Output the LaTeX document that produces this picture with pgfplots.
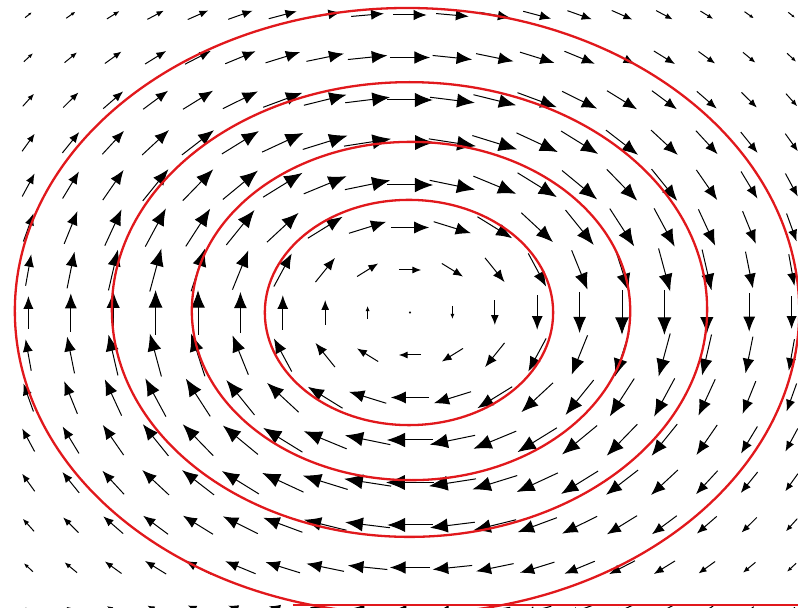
\documentclass[border=0pt]{standalone}
\usepackage{pgfplots}
\pgfplotsset{compat=1.18}
\usepackage{pgfplotstable}
\usetikzlibrary{arrows.meta}
\definecolor{ered}{RGB}{225,24,28}
\pgfplotstableread[row sep=\\]{
x y u v\\
-9 7 0.156 0.124\\ -8 7 0.221 0.156\\ -7 7 0.299 0.185\\ -6 7 0.389 0.206\\ -5 7 0.484 0.213\\ -4 7 0.577 0.204\\ -3 7 0.661 0.175\\ -2 7 0.728 0.128\\ -1 7 0.772 0.068\\ 0 7 0.787 0\\
1 7 0.772 -0.068\\ 2 7 0.728 -0.128\\ 3 7 0.661 -0.175\\ 4 7 0.577 -0.204\\ 5 7 0.484 -0.213\\ 6 7 0.389 -0.206\\ 7 7 0.299 -0.185\\ 8 7 0.221 -0.156\\ 9 7 0.156 -0.124\\
-9 6 0.214 0.198\\ -8 6 0.295 0.243\\ -7 6 0.392 0.282\\ -6 6 0.499 0.308\\ -5 6 0.610 0.314\\ -4 6 0.717 0.295\\ -3 6 0.812 0.251\\ -2 6 0.886 0.182\\ -1 6 0.934 0.096\\ 0 6 0.950 0\\
1 6 0.934 -0.096\\ 2 6 0.886 -0.182\\ 3 6 0.812 -0.251\\ 4 6 0.717 -0.295\\ 5 6 0.610 -0.314\\ 6 6 0.499 -0.308\\ 7 6 0.392 -0.282\\ 8 6 0.295 -0.243\\ 9 6 0.214 -0.198\\
-9 5 0.266 0.296\\ -8 5 0.361 0.356\\ -7 5 0.470 0.406\\ -6 5 0.589 0.437\\ -5 5 0.710 0.438\\ -4 5 0.825 0.407\\ -3 5 0.926 0.343\\ -2 5 1.005 0.248\\ -1 5 1.056 0.130\\ 0 5 1.074 0\\
1 5 1.056 -0.130\\ 2 5 1.005 -0.248\\ 3 5 0.926 -0.343\\ 4 5 0.825 -0.407\\ 5 5 0.710 -0.438\\ 6 5 0.589 -0.437\\ 7 5 0.470 -0.406\\ 8 5 0.361 -0.356\\ 9 5 0.266 -0.296\\
-9 4 0.298 0.414\\ -8 4 0.398 0.491\\ -7 4 0.511 0.552\\ -6 4 0.633 0.586\\ -5 4 0.756 0.583\\ -4 4 0.873 0.539\\ -3 4 0.975 0.451\\ -2 4 1.058 0.327\\ -1 4 1.113 0.172\\ 0 4 1.133 0\\
1 4 1.113 -0.172\\ 2 4 1.058 -0.327\\ 3 4 0.975 -0.451\\ 4 4 0.873 -0.539\\ 5 4 0.756 -0.583\\ 6 4 0.633 -0.586\\ 7 4 0.511 -0.552\\ 8 4 0.398 -0.491\\ 9 4 0.298 -0.414\\
-9 3 0.292 0.541\\ -8 3 0.386 0.635\\ -7 3 0.492 0.709\\ -6 3 0.605 0.747\\ -5 3 0.720 0.740\\ -4 3 0.828 0.681\\ -3 3 0.927 0.572\\ -2 3 1.011 0.416\\ -1 3 1.072 0.220\\ 0 3 1.094 0\\
1 3 1.072 -0.220\\ 2 3 1.011 -0.416\\ 3 3 0.927 -0.572\\ 4 3 0.828 -0.681\\ 5 3 0.720 -0.740\\ 6 3 0.605 -0.747\\ 7 3 0.492 -0.709\\ 8 3 0.386 -0.635\\ 9 3 0.292 -0.541\\
-9 2 0.237 0.658\\ -8 2 0.312 0.769\\ -7 2 0.396 0.855\\ -6 2 0.486 0.899\\ -5 2 0.577 0.890\\ -4 2 0.665 0.821\\ -3 2 0.746 0.690\\ -2 2 0.819 0.505\\ -1 2 0.880 0.272\\ 0 2 0.907 0\\
1 2 0.880 -0.272\\ 2 2 0.819 -0.505\\ 3 2 0.746 -0.690\\ 4 2 0.665 -0.821\\ 5 2 0.577 -0.890\\ 6 2 0.486 -0.899\\ 7 2 0.396 -0.855\\ 8 2 0.312 -0.769\\ 9 2 0.237 -0.658\\
-9 1 0.133 0.742\\ -8 1 0.175 0.865\\ -7 1 0.223 0.962\\ -6 1 0.274 1.013\\ -5 1 0.325 1.004\\ -4 1 0.375 0.927\\ -3 1 0.421 0.779\\ -2 1 0.460 0.568\\ -1 1 0.499 0.308\\ 0 1 0.527 0\\
1 1 0.499 -0.308\\ 2 1 0.460 -0.568\\ 3 1 0.421 -0.779\\ 4 1 0.375 -0.927\\ 5 1 0.325 -1.004\\ 6 1 0.274 -1.013\\ 7 1 0.223 -0.962\\ 8 1 0.175 -0.865\\ 9 1 0.133 -0.742\\
-9 0 0 0.773\\ -8 0 0 0.901\\ -7 0 0 1.001\\ -6 0 0 1.056\\ -5 0 0 1.048\\ -4 0 0 0.968\\ -3 0 0 0.812\\ -2 0 0 0.586\\ -1 0 0 0.307\\
1 0 0 -0.307\\ 2 0 0 -0.586\\ 3 0 0 -0.812\\ 4 0 0 -0.968\\ 5 0 0 -1.048\\ 6 0 0 -1.056\\ 7 0 0 -1.001\\ 8 0 0 -0.901\\ 9 0 0 -0.773\\
-9 -1 -0.133 0.742\\ -8 -1 -0.175 0.865\\ -7 -1 -0.223 0.962\\ -6 -1 -0.274 1.013\\ -5 -1 -0.325 1.004\\ -4 -1 -0.375 0.927\\ -3 -1 -0.421 0.779\\ -2 -1 -0.460 0.568\\ -1 -1 -0.499 0.308\\ 0 -1 -0.527 0\\
1 -1 -0.499 -0.308\\ 2 -1 -0.460 -0.568\\ 3 -1 -0.421 -0.779\\ 4 -1 -0.375 -0.927\\ 5 -1 -0.325 -1.004\\ 6 -1 -0.274 -1.013\\ 7 -1 -0.223 -0.962\\ 8 -1 -0.175 -0.865\\ 9 -1 -0.133 -0.742\\
-9 -2 -0.237 0.658\\ -8 -2 -0.312 0.769\\ -7 -2 -0.396 0.855\\ -6 -2 -0.486 0.899\\ -5 -2 -0.577 0.890\\ -4 -2 -0.665 0.821\\ -3 -2 -0.746 0.690\\ -2 -2 -0.819 0.505\\ -1 -2 -0.880 0.272\\ 0 -2 -0.907 0\\
1 -2 -0.880 -0.272\\ 2 -2 -0.819 -0.505\\ 3 -2 -0.746 -0.690\\ 4 -2 -0.665 -0.821\\ 5 -2 -0.577 -0.890\\ 6 -2 -0.486 -0.899\\ 7 -2 -0.396 -0.855\\ 8 -2 -0.312 -0.769\\ 9 -2 -0.237 -0.658\\
-9 -3 -0.292 0.541\\ -8 -3 -0.386 0.635\\ -7 -3 -0.492 0.709\\ -6 -3 -0.605 0.747\\ -5 -3 -0.720 0.740\\ -4 -3 -0.828 0.681\\ -3 -3 -0.927 0.572\\ -2 -3 -1.011 0.416\\ -1 -3 -1.072 0.220\\ 0 -3 -1.094 0\\
1 -3 -1.072 -0.220\\ 2 -3 -1.011 -0.416\\ 3 -3 -0.927 -0.572\\ 4 -3 -0.828 -0.681\\ 5 -3 -0.720 -0.740\\ 6 -3 -0.605 -0.747\\ 7 -3 -0.492 -0.709\\ 8 -3 -0.386 -0.635\\ 9 -3 -0.292 -0.541\\
-9 -4 -0.298 0.414\\ -8 -4 -0.398 0.491\\ -7 -4 -0.511 0.552\\ -6 -4 -0.633 0.586\\ -5 -4 -0.756 0.583\\ -4 -4 -0.873 0.539\\ -3 -4 -0.975 0.451\\ -2 -4 -1.058 0.327\\ -1 -4 -1.113 0.172\\ 0 -4 -1.133 0\\
1 -4 -1.113 -0.172\\ 2 -4 -1.058 -0.327\\ 3 -4 -0.975 -0.451\\ 4 -4 -0.873 -0.539\\ 5 -4 -0.756 -0.583\\ 6 -4 -0.633 -0.586\\ 7 -4 -0.511 -0.552\\ 8 -4 -0.398 -0.491\\ 9 -4 -0.298 -0.414\\
-9 -5 -0.266 0.296\\ -8 -5 -0.361 0.356\\ -7 -5 -0.470 0.406\\ -6 -5 -0.589 0.437\\ -5 -5 -0.710 0.438\\ -4 -5 -0.825 0.407\\ -3 -5 -0.926 0.343\\ -2 -5 -1.005 0.248\\ -1 -5 -1.056 0.130\\ 0 -5 -1.074 0\\
1 -5 -1.056 -0.130\\ 2 -5 -1.005 -0.248\\ 3 -5 -0.926 -0.343\\ 4 -5 -0.825 -0.407\\ 5 -5 -0.710 -0.438\\ 6 -5 -0.589 -0.437\\ 7 -5 -0.470 -0.406\\ 8 -5 -0.361 -0.356\\ 9 -5 -0.266 -0.296\\
-9 -6 -0.214 0.198\\ -8 -6 -0.295 0.243\\ -7 -6 -0.392 0.282\\ -6 -6 -0.499 0.308\\ -5 -6 -0.610 0.314\\ -4 -6 -0.717 0.295\\ -3 -6 -0.812 0.251\\ -2 -6 -0.886 0.182\\ -1 -6 -0.934 0.096\\ 0 -6 -0.950 0\\
1 -6 -0.934 -0.096\\ 2 -6 -0.886 -0.182\\ 3 -6 -0.812 -0.251\\ 4 -6 -0.717 -0.295\\ 5 -6 -0.610 -0.314\\ 6 -6 -0.499 -0.308\\ 7 -6 -0.392 -0.282\\ 8 -6 -0.295 -0.243\\ 9 -6 -0.214 -0.198\\
-9 -7 -0.156 0.124\\ -8 -7 -0.221 0.156\\ -7 -7 -0.299 0.185\\ -6 -7 -0.389 0.206\\ -5 -7 -0.484 0.213\\ -4 -7 -0.577 0.204\\ -3 -7 -0.661 0.175\\ -2 -7 -0.728 0.128\\ -1 -7 -0.772 0.068\\ 0 -7 -0.787 0\\
1 -7 -0.772 -0.068\\ 2 -7 -0.728 -0.128\\ 3 -7 -0.661 -0.175\\ 4 -7 -0.577 -0.204\\ 5 -7 -0.484 -0.213\\ 6 -7 -0.389 -0.206\\ 7 -7 -0.299 -0.185\\ 8 -7 -0.221 -0.156\\ 9 -7 -0.156 -0.124\\
}\field
\begin{document}
\begin{tikzpicture}
\begin{axis}[
  width=798pt, height=608pt, scale only axis,
  xmin=-9.670, xmax=9.151, ymin=-6.953, ymax=7.353,
  axis line style={draw=none}, xtick=\empty, ytick=\empty,
  point meta min=0, point meta max=1.2,
  clip=true]
\addplot[black, line width=1pt,
  point meta={sqrt(\thisrow{u}^2+\thisrow{v}^2)},
  quiver={u=\thisrow{u}, v=\thisrow{v},
    every arrow/.append style={-{Latex[length=0.0200*\pgfplotspointmetatransformed pt,width=0.0160*\pgfplotspointmetatransformed pt]}}}]
  table[x expr=\thisrow{x}-0.5*\thisrow{u}, y expr=\thisrow{y}-0.5*\thisrow{v}] {\field};
\addplot[only marks, mark=*, mark size=0.9pt, black] coordinates {(0,0)};
\draw[ered, line width=2.3pt] (axis cs:-0.024,0) ellipse [x radius=3.40, y radius=2.65];
\draw[ered, line width=2.3pt] (axis cs:0.024,0.035) ellipse [x radius=5.17, y radius=3.98];
\draw[ered, line width=2.3pt] (axis cs:-0.012,0.07) ellipse [x radius=7.02, y radius=5.35];
\draw[ered, line width=2.3pt] (axis cs:-0.07,0.035) ellipse [x radius=9.25, y radius=7.13];
\addplot[ered, line width=2.3pt] coordinates {(-2.76,-6.882) (9.4,-6.882)};
\end{axis}
\end{tikzpicture}
\end{document}
